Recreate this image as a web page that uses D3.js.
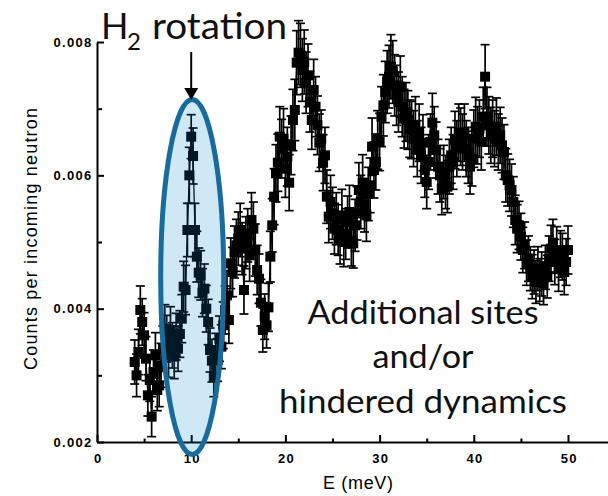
<!DOCTYPE html>
<html><head><meta charset="utf-8">
<script src="https://cdn.jsdelivr.net/npm/d3@7"></script>
<style>body{margin:0;background:#fff}svg{display:block}</style>
</head><body><svg id="c" width="608" height="496"></svg>
<script>
// Energy transfer (meV)
const energy = [4.0,4.2,4.4,4.6,4.8,5.0,5.2,5.4,5.6,5.8,6.0,6.2,6.4,6.6,6.8,7.0,7.2,7.4,7.6,7.8,8.0,8.2,8.4,8.6,8.8,9.0,
9.2,9.4,9.6,9.8,10.0,10.2,10.4,10.6,10.8,11.0,11.2,11.4,11.6,11.8,12.0,12.2,12.4,12.6,12.8,13.0,13.2,13.4,13.6,13.8,14.0,
14.2,14.4,14.6,14.8,15.0,15.2,15.4,15.6,15.8,16.0,16.2,16.4,16.6,16.8,17.0,17.2,17.4,17.6,17.8,18.0,18.2,18.4,18.6,18.8,19.0,
19.2,19.4,19.6,19.8,20.0,20.2,20.4,20.6,20.8,21.0,21.2,21.4,21.6,21.8,22.0,22.2,22.4,22.6,22.8,23.0,23.2,23.4,23.6,23.8,24.0,
24.2,24.4,24.6,24.8,25.0,25.2,25.4,25.6,25.8,26.0,26.2,26.4,26.6,26.8,27.0,27.2,27.4,27.6,27.8,28.0,28.2,28.4,28.6,28.8,29.0,
29.2,29.4,29.6,29.8,30.0,30.2,30.4,30.6,30.8,31.0,31.2,31.4,31.6,31.8,32.0,32.2,32.4,32.6,32.8,33.0,33.2,33.4,33.6,33.8,34.0,
34.2,34.4,34.6,34.8,35.0,35.2,35.4,35.6,35.8,36.0,36.2,36.4,36.6,36.8,37.0,37.2,37.4,37.6,37.8,38.0,38.2,38.4,38.6,38.8,39.0,
39.2,39.4,39.6,39.8,40.0,40.2,40.4,40.6,40.8,41.0,41.2,41.4,41.6,41.8,42.0,42.2,42.4,42.6,42.8,43.0,43.2,43.4,43.6,43.8,44.0,
44.2,44.4,44.6,44.8,45.0,45.2,45.4,45.6,45.8,46.0,46.2,46.4,46.6,46.8,47.0,47.2,47.4,47.6,47.8,48.0,48.2,48.4,48.6,48.8,49.0,
49.2,49.4,49.6,49.8,50.0];
// Counts per incoming neutron, in units of 1e-3
const counts = [3.20,3.00,3.35,3.98,3.80,3.60,3.25,2.70,2.93,2.38,3.05,3.30,2.78,2.85,3.15,3.40,3.70,3.55,3.30,3.68,3.45,3.28,3.58,3.40,3.62,3.85,
4.33,4.28,5.18,6.00,6.58,6.29,5.18,4.78,4.54,4.50,4.24,4.30,4.00,3.80,3.38,3.22,2.98,3.30,3.23,3.55,3.43,3.75,3.98,4.20,3.83,
4.68,4.55,4.85,4.95,5.05,5.18,4.90,4.28,4.99,5.10,4.80,5.33,5.20,4.88,4.58,4.45,4.09,3.68,3.88,3.75,4.02,4.78,5.25,5.68,6.03,
6.19,6.58,6.40,6.55,6.10,6.28,5.89,6.45,6.83,6.98,7.69,7.84,7.80,7.58,7.70,7.39,7.50,7.10,6.83,7.28,7.03,6.75,6.49,6.55,6.19,
6.30,5.68,5.38,5.60,5.43,5.20,5.35,5.18,5.05,5.40,5.00,5.12,5.30,5.45,5.02,4.98,5.25,5.43,5.78,5.60,5.89,5.55,5.40,5.72,5.85,
6.43,6.08,6.20,6.53,6.50,6.88,7.05,7.25,7.40,7.48,7.63,7.55,7.35,7.20,7.10,7.33,7.03,6.85,6.95,6.83,6.70,6.68,6.55,6.75,6.40,
6.64,6.30,6.49,6.08,5.90,6.20,6.50,6.79,6.60,6.38,6.13,6.00,5.80,6.05,5.90,5.83,6.13,6.30,6.20,6.53,6.40,6.64,6.58,6.50,6.64,
6.40,6.30,6.13,6.25,6.55,6.73,6.60,6.70,6.50,6.88,7.48,6.88,6.75,6.60,6.70,6.55,6.73,6.50,6.60,6.45,6.35,6.00,5.93,5.85,5.78,
5.60,5.33,5.20,5.25,5.08,4.88,4.95,4.69,4.75,4.60,4.48,4.55,4.40,4.60,4.43,4.52,4.38,4.62,4.48,4.75,4.90,4.99,4.70,4.88,4.60,
4.82,4.78,4.55,4.70,4.88];
// Error bars (+/-), in units of 1e-3
const errors = [.33,.32,.34,.36,.35,.34,.33,.31,.32,.30,.33,.34,.31,.32,.33,.34,.36,.35,.33,.35,.34,.33,.35,.34,.35,.36,
.38,.37,.40,.42,.33,.42,.40,.38,.37,.37,.36,.37,.35,.34,.33,.32,.30,.33,.32,.34,.33,.35,.36,.37,.35,
.38,.37,.39,.39,.40,.40,.39,.36,.39,.40,.39,.41,.40,.39,.37,.37,.35,.33,.34,.34,.36,.38,.40,.42,.43,
.43,.45,.44,.45,.43,.44,.42,.44,.46,.46,.48,.48,.48,.47,.48,.46,.47,.45,.44,.46,.45,.44,.43,.43,.42,
.42,.40,.39,.40,.39,.38,.39,.38,.38,.39,.37,.38,.39,.40,.38,.37,.39,.40,.41,.40,.42,.40,.39,.40,.41,
.43,.42,.42,.44,.43,.45,.46,.46,.47,.47,.48,.47,.46,.45,.45,.46,.45,.44,.44,.44,.43,.43,.42,.43,.42,
.43,.42,.42,.41,.40,.41,.42,.44,.43,.42,.41,.40,.39,.40,.40,.39,.41,.42,.41,.43,.42,.43,.43,.42,.43,
.42,.42,.41,.41,.43,.44,.43,.43,.42,.44,.48,.44,.43,.42,.43,.42,.43,.42,.42,.41,.41,.40,.39,.39,.39,
.38,.37,.36,.36,.35,.34,.35,.34,.34,.33,.33,.33,.32,.33,.32,.33,.32,.33,.32,.34,.35,.35,.34,.35,.34,
.35,.35,.34,.35,.36];

const xMajorTicks = [0,10,20,30,40,50];
const xMinorTicks = [5,15,25,35,45,55];
const yMajorTicks = [2,4,6,8];
const yMinorTicks = [3,5,7];
const yTickLabels = ["0.002","0.004","0.006","0.008"];
const xTitle = "E (meV)";
const yTitle = "Counts per incoming neutron";
const peakName = "H";
const peakSub = "2";
const peakWord = "rotation";
const noteLines = ["Additional sites","and/or","hindered dynamics"];
const highlightCenter = 10; // meV

const svg = d3.select("#c");
const x = d3.scaleLinear().domain([0,55]).range([97, 97 + 55*9.42]);
const y = d3.scaleLinear().domain([2,8]).range([442, 42]);

const data = energy.map((e,i)=>({e, v:counts[i], err:errors[i]}));

// connecting line
svg.append("path").datum(data)
  .attr("d", d3.line().x(d=>x(d.e)).y(d=>y(d.v)))
  .attr("fill","none").attr("stroke","#000").attr("stroke-width",1.3);

// error bars
const eb = svg.append("g").attr("stroke","#000").attr("stroke-width",1.7);
data.forEach(d=>{
  const cx = x(d.e), y1 = y(d.v + d.err), y0 = y(d.v - d.err);
  eb.append("line").attr("x1",cx).attr("x2",cx).attr("y1",y1).attr("y2",y0);
  eb.append("line").attr("x1",cx-4.5).attr("x2",cx+4.5).attr("y1",y1).attr("y2",y1);
  eb.append("line").attr("x1",cx-4.5).attr("x2",cx+4.5).attr("y1",y0).attr("y2",y0);
});

// markers
svg.append("g").selectAll("rect").data(data).join("rect")
  .attr("x",d=>x(d.e)-5).attr("y",d=>y(d.v)-5)
  .attr("width",10).attr("height",10).attr("fill","#000");

// axes
const tickFont = g => g.selectAll("text")
  .attr("font-family","Liberation Sans, Arial, sans-serif")
  .attr("font-weight","bold").attr("font-size",13)
  .attr("letter-spacing","1.3px").attr("fill","#000");

const xAxis = svg.append("g").attr("transform","translate(0,442)")
  .call(d3.axisBottom(x).tickValues(xMajorTicks).tickSize(-7).tickSizeOuter(0)
    .tickPadding(12).tickFormat(d3.format("d")));
xAxis.call(tickFont);
xAxis.selectAll("text").attr("dx","0.65px");
svg.append("g").attr("transform","translate(0,442)")
  .call(d3.axisBottom(x).tickValues(xMinorTicks).tickSize(-3.5).tickSizeOuter(0).tickFormat(""))
  .select(".domain").remove();

const yAxis = svg.append("g").attr("transform","translate(97,0)")
  .call(d3.axisLeft(y).tickValues(yMajorTicks).tickSize(-7).tickSizeOuter(0)
    .tickPadding(4.5).tickFormat((d,i)=>yTickLabels[i]));
yAxis.call(tickFont);
svg.append("g").attr("transform","translate(97,0)")
  .call(d3.axisLeft(y).tickValues(yMinorTicks).tickSize(-5).tickSizeOuter(0).tickFormat(""))
  .select(".domain").remove();
svg.selectAll(".domain, .tick line").attr("stroke","#000").attr("stroke-width",2);

// axis titles
svg.append("text").attr("x",358).attr("y",489).attr("text-anchor","middle")
  .attr("font-family","Liberation Sans, Arial, sans-serif").attr("font-size",18)
  .attr("textLength",70).attr("lengthAdjust","spacing").text(xTitle);
svg.append("text").attr("transform","translate(37,239) rotate(-90)").attr("text-anchor","middle")
  .attr("font-family","Liberation Sans, Arial, sans-serif").attr("font-size",18)
  .attr("textLength",262).attr("lengthAdjust","spacing").text(yTitle);

// highlight ellipse
const ecx = x(highlightCenter)+1;
svg.append("ellipse").attr("cx",ecx).attr("cy",277).attr("rx",31.5).attr("ry",177.5)
  .attr("fill","rgb(0,133,200)").attr("fill-opacity",0.19)
  .attr("stroke","#186b9b").attr("stroke-width",5);

// arrow
const ax = x(highlightCenter);
svg.append("line").attr("x1",ax).attr("x2",ax)
  .attr("y1",52).attr("y2",90).attr("stroke","#000").attr("stroke-width",2);
svg.append("path").attr("d",`M${ax-7},88 L${ax+7},88 L${ax},100 Z`).attr("fill","#000");

// annotations
const annFont = "Lato, 'Open Sans', sans-serif";
svg.append("text").attr("x",101).attr("y",39).attr("font-family",annFont)
  .attr("font-size",36).attr("fill","#111").text(peakName);
svg.append("text").attr("x",127).attr("y",50).attr("font-family",annFont)
  .attr("font-size",24).attr("fill","#111").text(peakSub);
svg.append("text").attr("x",152).attr("y",39).attr("font-family",annFont)
  .attr("font-size",36).attr("fill","#111").attr("textLength",135)
  .attr("lengthAdjust","spacingAndGlyphs").text(peakWord);

const noteY = [324,368,413];
const noteW = [231,101,288];
noteLines.forEach((t,i)=>{
  svg.append("text").attr("x",423).attr("y",noteY[i]).attr("text-anchor","middle")
    .attr("font-family",annFont).attr("font-size",33).attr("fill","#111")
    .attr("textLength",noteW[i]).attr("lengthAdjust","spacingAndGlyphs").text(t);
});
</script></body></html>
